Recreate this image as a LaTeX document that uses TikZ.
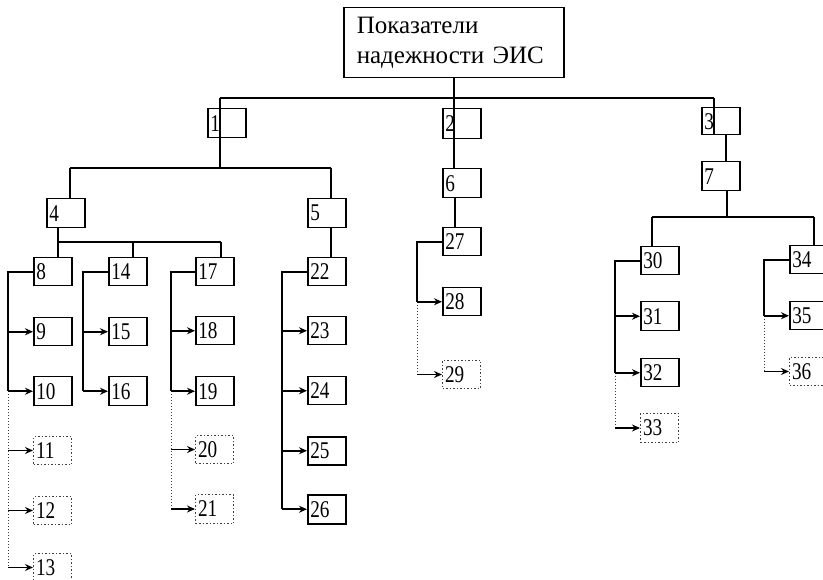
\documentclass[tikz,border=0pt]{standalone}
\usepackage{fontspec}
\setmainfont{Liberation Serif}
\newfontfamily\numfont{Liberation Serif}[FakeStretch=0.8]
\usetikzlibrary{arrows.meta}

\begin{document}
\begin{tikzpicture}[x=1pt,y=-1pt,
  blk/.style={draw,line width=1.5pt,anchor=north west,minimum height=28pt,text width=33pt,inner xsep=2.5pt,inner ysep=0pt,align=left,font=\numfont\fontsize{24}{24}\selectfont},
  blkd/.style={blk,draw=black!75,dotted,line width=1pt},
  conn/.style={line width=1.6pt},
  connd/.style={line width=1pt,dotted,draw=black!75},
  arr/.style={line width=1.6pt,->,>={Stealth[length=8pt,width=7pt]}}]
\useasboundingbox (0,0) rectangle (823,580);
\clip (0,0) rectangle (823,580);

% top of the tree
\node[draw,line width=1.5pt,anchor=north west,minimum width=220pt,minimum height=70pt,text width=194pt,inner xsep=13pt,align=left,font=\fontsize{25}{30}\selectfont] (top) at (343,7) {Показатели\\надежности ЭИС};
\node[blk,minimum height=29pt] (b1) at (207,108) {1};
\node[blk,minimum height=30pt] (b2) at (442,108) {2};
\node[blk,minimum height=27pt] (b3) at (701,107) {3};
\node[blk,minimum height=29pt] (b4) at (46,198) {4};
\node[blk,minimum height=29pt] (b5) at (307,198) {5};
\node[blk,minimum height=29pt] (b6) at (442,168) {6};
\node[blk,minimum height=29pt] (b7) at (701,161) {7};

% branch 4
\node[blk] (b8) at (33,257) {8};
\node[blk] (b9) at (33,317) {9};
\node[blk,minimum height=29pt] (b10) at (33,376) {10};
\node[blkd] (b11) at (33,436) {11};
\node[blkd] (b12) at (33,496) {12};
\node[blkd] (b13) at (33,553) {13};
\node[blk] (b14) at (108,257) {14};
\node[blk] (b15) at (108,317) {15};
\node[blk,minimum height=29pt] (b16) at (108,376) {16};
\node[blk] (b17) at (195,257) {17};
\node[blk] (b18) at (195,316) {18};
\node[blk,minimum height=29pt] (b19) at (195,376) {19};
\node[blkd] (b20) at (195,435) {20};
\node[blkd,minimum height=29pt] (b21) at (195,494) {21};

% branch 5
\node[blk] (b22) at (307,257) {22};
\node[blk] (b23) at (307,316) {23};
\node[blk] (b24) at (307,376) {24};
\node[blk] (b25) at (307,436) {25};
\node[blk,minimum height=29pt] (b26) at (307,494) {26};

% branch 6
\node[blk] (b27) at (442,227) {27};
\node[blk] (b28) at (442,287) {28};
\node[blkd] (b29) at (442,360) {29};

% branch 7
\node[blk] (b30) at (640,246) {30};
\node[blk,minimum height=29pt] (b31) at (640,301) {31};
\node[blk] (b32) at (640,358) {32};
\node[blkd,minimum height=29pt] (b33) at (640,413) {33};
\node[blk] (b34) at (789,245) {34};
\node[blk] (b35) at (789,301) {35};
\node[blkd] (b36) at (789,357) {36};

% junction points
\coordinate (bar0L) at (220,98);
\coordinate (bar0R) at (714,98);
\coordinate (bar1L) at (70,168);
\coordinate (bar1R) at (331,168);
\coordinate (bar2L) at (58,242);
\coordinate (bar2M) at (133,242);
\coordinate (bar2R) at (221,242);
\coordinate (j3) at (726,134);
\coordinate (j6) at (455,197);
\coordinate (j7) at (727,190);
\coordinate (bar3L) at (652,217);
\coordinate (bar3R) at (814,217);
\coordinate (r8) at (8,0);
\coordinate (r14) at (83,0);
\coordinate (r17) at (171,0);
\coordinate (r22) at (282,0);
\coordinate (r27) at (417,0);
\coordinate (r30) at (615,0);
\coordinate (r34) at (764,0);

% upper levels
\draw[conn] (top.south) -- (top.south |- b6.north);
\draw[conn] (bar0L) -- (bar0R);
\draw[conn] (bar0L) -- (bar0L |- bar1L);
\draw[conn] (bar0R) -- (bar0R |- b3.south);
\draw[conn] (j3) -- (j3 |- b7.north);
\draw[conn] (bar1L) -- (bar1R);
\draw[conn] (bar1L) -- (bar1L |- b4.north);
\draw[conn] (bar1R) -- (bar1R |- b5.north);
\draw[conn] (bar2L |- b4.south) -- (bar2L) -- (bar2R);
\draw[conn] (bar2L) -- (bar2L |- b8.north);
\draw[conn] (bar2M) -- (bar2M |- b14.north);
\draw[conn] (bar2R) -- (bar2R |- b17.north);
\draw[conn] (bar1R |- b5.south) -- (bar1R |- b22.north);
\draw[conn] (j6) -- (j6 |- b27.north);
\draw[conn] (j7) -- (j7 |- bar3L);
\draw[conn] (bar3L) -- (bar3R);
\draw[conn] (bar3L) -- (bar3L |- b30.north);
\draw[conn] (bar3R) -- (bar3R |- b34.north);

% rails
\draw[conn] (b8.west) -- (b8.west -| r8) -- (b10.west -| r8);
\draw[connd] (b10.west -| r8) -- (b13.west -| r8);
\draw[conn] (b14.west) -- (b14.west -| r14) -- (b16.west -| r14);
\draw[conn] (b17.west) -- (b17.west -| r17) -- (b19.west -| r17);
\draw[connd] (b19.west -| r17) -- (b21.west -| r17);
\draw[conn] (b22.west) -- (b22.west -| r22) -- (b26.west -| r22);
\draw[conn] (b27.west) -- (b27.west -| r27) -- (b28.west -| r27);
\draw[connd] (b28.west -| r27) -- (b29.west -| r27);
\draw[conn] (b30.west) -- (b30.west -| r30) -- (b32.west -| r30);
\draw[connd] (b32.west -| r30) -- (b33.west -| r30);
\draw[conn] (b34.west) -- (b34.west -| r34) -- (b35.west -| r34);
\draw[connd] (b35.west -| r34) -- (b36.west -| r34);

% arrows
\draw[arr] (b9.west -| r8) -- (b9.west);
\draw[arr] (b10.west -| r8) -- (b10.west);
\draw[arr] (b11.west -| r8) -- (b11.west);
\draw[arr] (b12.west -| r8) -- (b12.west);
\draw[arr] (b13.west -| r8) -- (b13.west);
\draw[arr] (b15.west -| r14) -- (b15.west);
\draw[arr] (b16.west -| r14) -- (b16.west);
\draw[arr] (b18.west -| r17) -- (b18.west);
\draw[arr] (b19.west -| r17) -- (b19.west);
\draw[arr] (b20.west -| r17) -- (b20.west);
\draw[arr] (b21.west -| r17) -- (b21.west);
\draw[arr] (b23.west -| r22) -- (b23.west);
\draw[arr] (b24.west -| r22) -- (b24.west);
\draw[arr] (b25.west -| r22) -- (b25.west);
\draw[arr] (b26.west -| r22) -- (b26.west);
\draw[arr] (b28.west -| r27) -- (b28.west);
\draw[arr] (b29.west -| r27) -- (b29.west);
\draw[arr] (b31.west -| r30) -- (b31.west);
\draw[arr] (b32.west -| r30) -- (b32.west);
\draw[arr] (b33.west -| r30) -- (b33.west);
\draw[arr] (b35.west -| r34) -- (b35.west);
\draw[arr] (b36.west -| r34) -- (b36.west);
\end{tikzpicture}
\end{document}
